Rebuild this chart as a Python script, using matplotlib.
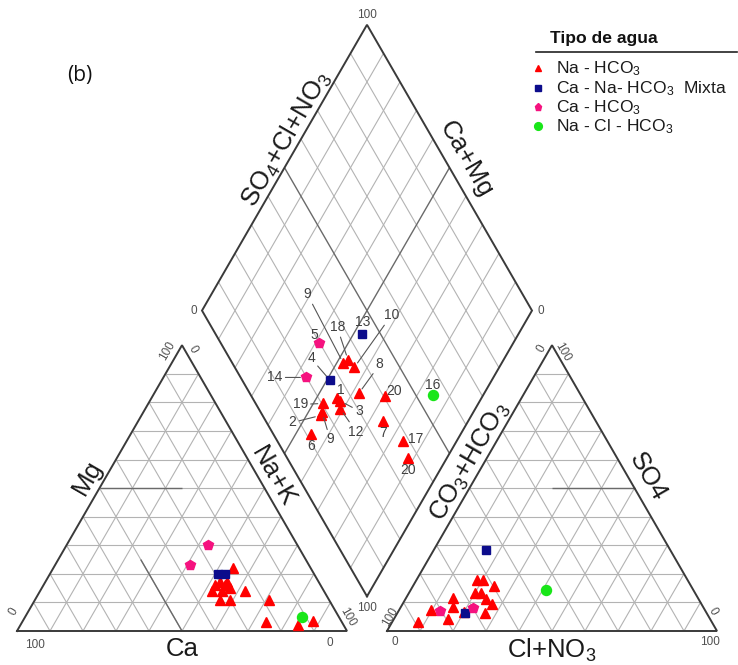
import numpy as np
import matplotlib
matplotlib.use("Agg")
import matplotlib.pyplot as plt
from matplotlib.lines import Line2D

plt.rcParams['font.family'] = ['Liberation Sans', 'DejaVu Sans']
plt.rcParams['mathtext.fontset'] = 'custom'
plt.rcParams['mathtext.rm'] = 'Liberation Sans'
plt.rcParams['mathtext.it'] = 'Liberation Sans:italic'
plt.rcParams['mathtext.bf'] = 'Liberation Sans:bold'
plt.rcParams['mathtext.default'] = 'regular'

# ---------------------------------------------------------------- data
water_types = ["Na - HCO$_3$", "Ca - Na- HCO$_3$  Mixta", "Ca - HCO$_3$", "Na - Cl - HCO$_3$"]

# cation triangle, % meq/L: (Ca, Mg, Na+K)
cation_na_hco3 = [(23.5, 22, 54.5), (30, 17, 53), (28, 17, 55), (34, 14, 52), (31, 14, 55),
                  (28, 15, 57), (24, 14, 62), (33, 11, 56), (30, 11, 59), (18, 11, 71),
                  (23, 3, 74), (14, 2, 84), (8.5, 3.5, 88), (29, 16, 55), (32, 16, 52)]
cation_ca_na_hco3 = [(29, 20, 51), (27, 20, 53)]
cation_ca_hco3 = [(27, 30, 43), (36, 23, 41)]
cation_na_cl_hco3 = [(11, 5, 84)]

# anion triangle, % meq/L: (CO3+HCO3, SO4, Cl+NO3)
anion_na_hco3 = [(89, 3.3, 7.7), (83, 7.3, 9.7), (79.5, 4.2, 16.3), (74.4, 11.4, 14.2),
                 (75.9, 8.5, 15.6), (63.8, 17.8, 18.4), (62, 17.8, 20.2), (59.7, 15.9, 24.4),
                 (66.5, 13.4, 20.1), (64.7, 13.4, 21.9), (64.4, 11.2, 24.4), (63.5, 9.5, 27),
                 (67.1, 6.2, 26.7), (73.5, 6.6, 19.9)]
anion_ca_na_hco3 = [(55.8, 28.3, 15.9), (73.4, 6.2, 20.4)]
anion_ca_hco3 = [(80.3, 7.1, 12.6), (69.9, 8.1, 22)]
anion_na_cl_hco3 = [(44.8, 14.2, 41)]

# central diamond: sample label, type index, Ca+Mg (%), SO4+Cl+NO3 (%)
sample_labels = ["9", "18", "10", "13", "5", "4", "14", "8", "1", "3",
                 "12", "19", "2", "9", "6", "7", "20", "16", "17", "20"]
sample_types = [0, 0, 0, 1, 2, 1, 2, 0, 0, 0,
                0, 0, 0, 0, 0, 0, 0, 3, 0, 0]
diamond_camg = [47.9, 47.0, 43.9, 47.4, 58.7, 49.0, 56.8, 38.0, 43.8, 42.4,
                41.0, 47.0, 45.7, 45.8, 45.4, 25.9, 29.5, 15.3, 16.4, 11.7]
diamond_so4cl = [33.6, 35.6, 36.2, 44.3, 29.8, 26.6, 19.8, 33.0, 25.5, 26.0,
                 24.7, 20.5, 17.6, 18.6, 11.3, 35.4, 40.6, 55.1, 38.0, 36.6]

# ---------------------------------------------------------------- styles
type_colors = ["#ff0000", "#0c0c8c", "#f5127f", "#19e619"]
type_markers = ["^", "s", "p", "o"]
type_sizes = [6.6, 5.4, 7.2, 7.2]

# label placement (pixel offsets from the marker) and whether a leader line is drawn
label_offsets = [(-36, 69), (-11, 33), (37, 52), (1, 12), (-5, 8), (-19, 22), (-31, 0),
                 (21, 29), (4, 8), (19, -10), (16, -23), (-23, -1), (-28, -7), (8, -27),
                 (0, -12), (0, -12), (9, 5), (0, 10), (13, 2), (0, -12)]
label_leader = [True, True, True, False, False, True, True, True, False, True,
                True, True, True, True, False, False, False, False, False, False]

# ---------------------------------------------------------------- geometry
H = np.sqrt(3) / 2
GAP = 40 / 330
OX = 1 + GAP
D0 = (1 + GAP / 2, GAP * H)


def cation_xy(ca, mg, na):
    t = ca + mg + na
    return na / t + 0.5 * mg / t, H * mg / t


def anion_xy(hco3, so4, cl):
    t = hco3 + so4 + cl
    return OX + cl / t + 0.5 * so4 / t, H * so4 / t


def diamond_xy(camg, so4cl):
    a, b = camg / 100.0, so4cl / 100.0
    return D0[0] + 0.5 * (b - a), D0[1] + H * (a + b)


fig = plt.figure(figsize=(7.38, 6.65), dpi=100)
ax = fig.add_axes([0, 0, 1, 1])
ax.set_xlim(-17 / 330, 721 / 330)
ax.set_ylim(-34 / 330, 631 / 330)
ax.set_aspect('auto')
ax.axis('off')

GRID = dict(color="#b3b3b3", lw=0.8, zorder=1, solid_capstyle='butt')
DARK = dict(color="#6a6a6a", lw=1.0, zorder=2, solid_capstyle='butt')
EDGE = dict(color="#3a3a3a", lw=1.4, zorder=3, solid_joinstyle='miter')

# triangle grids
for ox in (0.0, OX):
    for k in range(1, 10):
        t = k / 10
        ax.plot([ox + t / 2, ox + 1 - t / 2], [H * t, H * t], **GRID)
        ax.plot([ox + t, ox + t / 2], [0, H * t], **GRID)
        ax.plot([ox + t, ox + t + (1 - t) / 2], [0, H * (1 - t)], **GRID)
    ax.plot([ox, ox + 1, ox + 0.5, ox], [0, 0, H, 0], **EDGE)

# facies boundaries in the triangles
p, q = cation_xy(50, 50, 0), cation_xy(25, 50, 25)
ax.plot([p[0], q[0]], [p[1], q[1]], **DARK)
p, q = cation_xy(50, 0, 50), cation_xy(50, 25, 25)
ax.plot([p[0], q[0]], [p[1], q[1]], **DARK)
p, q = anion_xy(0, 50, 50), anion_xy(25, 50, 25)
ax.plot([p[0], q[0]], [p[1], q[1]], **DARK)

# diamond grid
for k in range(1, 10):
    v = k * 10
    for (a0, b0, a1, b1) in ((v, 0, v, 100), (0, v, 100, v)):
        p, q = diamond_xy(a0, b0), diamond_xy(a1, b1)
        ax.plot([p[0], q[0]], [p[1], q[1]], **(DARK if v == 50 else GRID))
corners = [diamond_xy(0, 0), diamond_xy(100, 0), diamond_xy(100, 100), diamond_xy(0, 100), diamond_xy(0, 0)]
ax.plot([c[0] for c in corners], [c[1] for c in corners], **EDGE)

# ---------------------------------------------------------------- points
cation_sets = [cation_na_hco3, cation_ca_na_hco3, cation_ca_hco3, cation_na_cl_hco3]
anion_sets = [anion_na_hco3, anion_ca_na_hco3, anion_ca_hco3, anion_na_cl_hco3]
for i in range(4):
    xs, ys = zip(*[cation_xy(*s) for s in cation_sets[i]])
    ax.plot(xs, ys, ls='none', marker=type_markers[i], ms=type_sizes[i],
            color=type_colors[i], mec=type_colors[i], zorder=5)
    xs, ys = zip(*[anion_xy(*s) for s in anion_sets[i]])
    ax.plot(xs, ys, ls='none', marker=type_markers[i], ms=type_sizes[i],
            color=type_colors[i], mec=type_colors[i], zorder=5)

for i in range(len(sample_labels)):
    x, y = diamond_xy(diamond_camg[i], diamond_so4cl[i])
    ti = sample_types[i]
    ax.plot([x], [y], ls='none', marker=type_markers[ti], ms=type_sizes[ti],
            color=type_colors[ti], mec=type_colors[ti], zorder=5)
    arrow = dict(arrowstyle='-', color="#555555", lw=0.8, shrinkA=0, shrinkB=4) if label_leader[i] else None
    ax.annotate(sample_labels[i], (x, y), xytext=label_offsets[i], textcoords='offset pixels',
                ha='center', va='center', fontsize=10, color="#404040",
                arrowprops=arrow, zorder=6)

# ---------------------------------------------------------------- tick labels
TICK = dict(textcoords='offset pixels', ha='center', va='center', fontsize=8.5, color="#505050")
A0, A1, A2 = (0, 0), (1, 0), (0.5, H)
B0, B1, B2 = (OX, 0), (OX + 1, 0), (OX + 0.5, H)
DB, DL, DT, DR = diamond_xy(0, 0), diamond_xy(100, 0), diamond_xy(100, 100), diamond_xy(0, 100)
ticks = [("100", A0, (18, -14), 0), ("0", A1, (-17, -12), 0), ("0", A0, (-3, 19), 60),
         ("100", A2, (-15, -6), 60), ("0", A2, (11, -4), -60), ("100", A1, (1, 14), -60),
         ("0", B0, (8, -11), 0), ("100", B1, (-7, -11), 0), ("100", B0, (3, 14), 60),
         ("0", B1, (-4, 20), -60), ("0", B2, (-10, -3), 60), ("100", B2, (11, -7), -60),
         ("100", DT, (0, 10), 0), ("0", DL, (-8, 0), 0), ("0", DR, (9, 0), 0),
         ("100", DB, (0, -12), 0)]
for txt, xy, off, rot in ticks:
    ax.annotate(txt, xy, xytext=off, rotation=rot, **TICK)

# ---------------------------------------------------------------- axis titles
TITLE = dict(textcoords='offset pixels', ha='center', va='center', fontsize=18.5, color="#1a1a1a")


def mid(p, q):
    return ((p[0] + q[0]) / 2, (p[1] + q[1]) / 2)


ax.annotate("Mg", mid(A0, A2), xytext=(-12, 11), rotation=60, **TITLE)
ax.annotate("Na+K", mid(A1, A2), xytext=(9, 11), rotation=-60, **TITLE)
ax.annotate("Ca", mid(A0, A1), xytext=(0, -18), **TITLE)
ax.annotate("CO$_3$+HCO$_3$", mid(B0, B2), xytext=(0, 26), rotation=60, **TITLE)
ax.annotate("SO4", mid(B1, B2), xytext=(13, 11), rotation=-60, **TITLE)
ax.annotate("Cl+NO$_3$", mid(B0, B1), xytext=(0, -19), **TITLE)
ax.annotate("SO$_4$+Cl+NO$_3$", mid(DL, DT), xytext=(2, 29), rotation=60, **TITLE)
ax.annotate("Ca+Mg", mid(DR, DT), xytext=(17, 8), rotation=-60, **TITLE)

# ---------------------------------------------------------------- panel tag and legend
W, HP = 738, 665


def fpx(x, y):
    return x / W, 1 - y / HP


fig.text(*fpx(80, 75), "(b)", fontsize=15, family=['Open Sans', 'DejaVu Sans'],
         ha='center', va='center', color="#111111")
fig.text(*fpx(550, 39), "Tipo de agua", fontsize=12.6, fontweight='bold',
         ha='left', va='center', color="#111111")
fig.add_artist(Line2D([536 / W, 737 / W], [1 - 52 / HP, 1 - 52 / HP], color="#222222", lw=1.2))
leg_y = [69, 89, 108, 127]
leg_ms = [4.8, 4.2, 5.2, 5.6]
for i in range(4):
    fig.add_artist(Line2D([538 / W], [1 - (leg_y[i] - 1) / HP], ls='none', marker=type_markers[i],
                          ms=leg_ms[i], color=type_colors[i], mec=type_colors[i]))
    fig.text(*fpx(556, leg_y[i]), water_types[i], fontsize=12.6, ha='left', va='center',
             color="#1a1a1a")

fig.savefig("out.png", dpi=100)
